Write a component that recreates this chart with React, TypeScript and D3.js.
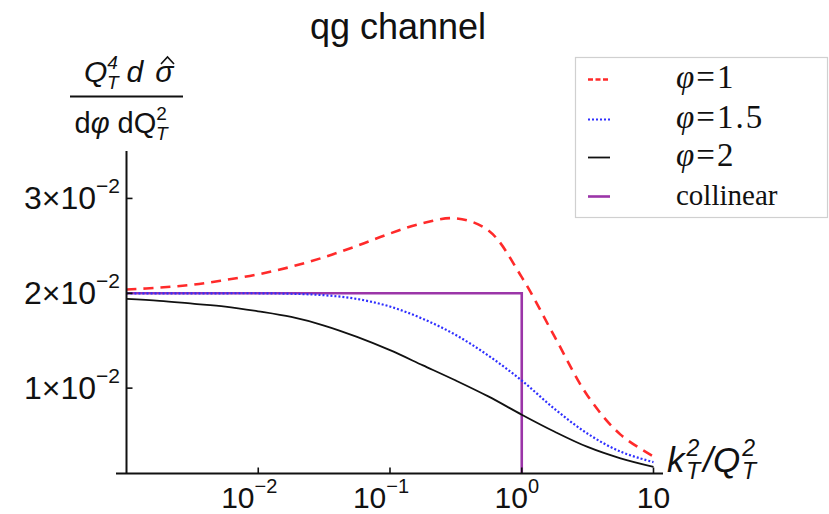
import React from "react";
import * as d3 from "d3";

const kValues = [0.001, 0.00178, 0.00316, 0.00562, 0.01, 0.0178, 0.0316, 0.0562, 0.1, 0.178, 0.316, 0.562, 1, 1.78, 3.16, 5.62, 10];
const phi1 = [0.0204, 0.0206, 0.0209, 0.0214, 0.022, 0.0228, 0.0238, 0.025, 0.0263, 0.0274, 0.0279, 0.0266, 0.0217, 0.0154, 0.0092, 0.0051, 0.0028];
const phi15 = [0.02, 0.02, 0.02, 0.02, 0.02, 0.01995, 0.0198, 0.0194, 0.0186, 0.0173, 0.0156, 0.0134, 0.0108, 0.0078, 0.0052, 0.0033, 0.0022];
const phi2 = [0.0194, 0.0192, 0.0189, 0.0186, 0.0181, 0.0175, 0.0166, 0.0154, 0.014, 0.0124, 0.0108, 0.0091, 0.0072, 0.0054, 0.0038, 0.0026, 0.0017];
const collinearK = [0.001, 1, 1];
const collinearV = [0.02, 0.02, 0.001];
const xTicks = [0.01, 0.1, 1, 10];
const xTickExp = ["−2", "−1", "0", ""];
const yTicks = [0.01, 0.02, 0.03];
const yTickMant = ["1", "2", "3"];
const legendLabels = ["φ=1", "φ=1.5", "φ=2", "collinear"];

const W = 829, H = 514;
const x = d3.scaleLog().domain([0.001, 10]).range([126.5, 653.5]);
const y = d3.scaleLinear().domain([0.001, 0.035]).range([473.5, 151]);

const RED = "#ff2a2a", BLUE = "#2f2fff", BLACK = "#111", PURPLE = "#9b35a8";
const SANS = "'Liberation Sans', Arial, Helvetica, sans-serif";
const SERIF = "'Liberation Serif', 'Times New Roman', serif";

export default function App() {
  const line = d3.line<[number, number]>().x(d => x(d[0])).y(d => y(d[1])).curve(d3.curveCatmullRom.alpha(0.5));
  const mk = (vals: number[]) => line(kValues.map((k, i) => [k, vals[i]] as [number, number])) || "";
  const colPath = d3.line<[number, number]>().x(d => x(d[0])).y(d => y(d[1]))(collinearK.map((k, i) => [k, collinearV[i]] as [number, number])) || "";
  const series = [
    { color: RED, dash: "5,2.5", w: 2.6 },
    { color: BLUE, dash: "2,2", w: 2.2 },
    { color: BLACK, dash: "", w: 1.8 },
    { color: PURPLE, dash: "", w: 2.6 },
  ];
  const x0 = x.range()[0];
  const yBase = y(0.001);
  return (
    <svg width={W} height={H} style={{ position: "absolute", left: 0, top: 0, background: "#fff" }}>
      <rect width={W} height={H} fill="#fff" />
      {/* title */}
      <text x={398} y={39} textAnchor="middle" fontFamily={SANS} fontSize={36} fill="#111">qg channel</text>
      {/* y label */}
      <text x={84} y={82} fontFamily={SANS} fontSize={30} fontStyle="italic" fill="#111">
        Q<tspan fontSize={19} dy={-13}>4</tspan><tspan fontSize={19} dx={-11} dy={20}>T</tspan><tspan dy={-7} dx={8}>d</tspan><tspan dx={12}>σ</tspan>
      </text>
      <path d="M161,64 L167.5,57 L174,64" fill="none" stroke="#111" strokeWidth={1.6} />
      <line x1={70} x2={183} y1={96.5} y2={96.5} stroke="#111" strokeWidth={2} />
      <text x={121} y={133} textAnchor="middle" fontFamily={SANS} fontSize={29} fill="#111">
        d<tspan fontStyle="italic">φ</tspan> dQ<tspan fontSize={19} dy={-13}>2</tspan><tspan fontSize={19} fontStyle="italic" dx={-11} dy={20}>T</tspan>
      </text>

      {/* curves */}
      <path d={colPath} fill="none" stroke={PURPLE} strokeWidth={2.6} />
      <path d={mk(phi2)} fill="none" stroke={BLACK} strokeWidth={1.8} />
      <path d={mk(phi15)} fill="none" stroke={BLUE} strokeWidth={2.2} strokeDasharray="2,2" />
      <path d={mk(phi1)} fill="none" stroke={RED} strokeWidth={2.6} strokeDasharray="10,7" />

      {/* axes */}
      <line x1={116} x2={663} y1={yBase} y2={yBase} stroke="#111" strokeWidth={2} />
      <line x1={x0} x2={x0} y1={151} y2={yBase} stroke="#111" strokeWidth={2} />
      {xTicks.map((t, i) => (
        <g key={"xt" + i}>
          <line x1={x(t)} x2={x(t)} y1={yBase} y2={yBase - 6} stroke="#111" strokeWidth={1.6} />
          <text x={x(t) + (xTickExp[i] ? (xTickExp[i].length > 1 ? -9 : -5) : 0)} y={508} textAnchor="middle" fontFamily={SANS} fontSize={30} fill="#111">
            10{xTickExp[i] ? <tspan fontSize={20} dy={-15}>{xTickExp[i]}</tspan> : null}
          </text>
        </g>
      ))}
      {yTicks.map((t, i) => (
        <g key={"yt" + i}>
          <line x1={x0} x2={x0 + 6} y1={y(t)} y2={y(t)} stroke="#111" strokeWidth={1.6} />
          <text x={120} y={y(t) + 11} textAnchor="end" fontFamily={SANS} fontSize={32} fill="#111">
            {yTickMant[i]}×10<tspan fontSize={21} dy={-16}>−2</tspan>
          </text>
        </g>
      ))}
      <text x={667} y={472} fontFamily={SANS} fontSize={35} fontStyle="italic" fill="#111">
        k<tspan fontSize={23} dx={2} dy={-16}>2</tspan><tspan fontSize={23} dx={-13} dy={23}>T</tspan><tspan dy={-7} dx={3}>/Q</tspan><tspan fontSize={23} dx={2} dy={-16}>2</tspan><tspan fontSize={23} dx={-13} dy={23}>T</tspan>
      </text>

      {/* legend */}
      <rect x={575.5} y={57.5} width={252} height={160} fill="#fff" stroke="#d0d0d0" strokeWidth={1.2} />
      {legendLabels.map((lab, i) => {
        const ly = [79.5, 119.5, 157.5, 196.5][i];
        const s = series[i];
        return (
          <g key={"lg" + i}>
            <line x1={588} x2={610} y1={ly} y2={ly} stroke={s.color} strokeWidth={s.w} strokeDasharray={s.dash} />
            <text x={676} y={ly + 8} fontFamily={SERIF} fontSize={i === 3 ? 29 : 33} letterSpacing={i === 3 ? 0 : 2} fill="#111">
              {i < 3 ? <><tspan fontStyle="italic">φ</tspan>{lab.slice(1)}</> : lab}
            </text>
          </g>
        );
      })}
    </svg>
  );
}
